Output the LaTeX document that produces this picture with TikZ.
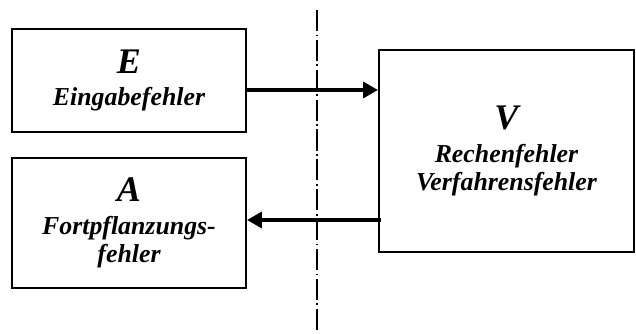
\documentclass[tikz,border=0pt]{standalone}
\usepackage{fontspec}
\setmainfont{Liberation Serif}
\usetikzlibrary{arrows.meta}
\newcommand{\gross}[1]{{\fontsize{20.5}{22}\selectfont #1}}
\begin{document}
\begin{tikzpicture}[scale=1]
\tikzset{kasten/.style={draw,line width=1.1pt,align=center,font=\bfseries\itshape\fontsize{14.7}{16}\selectfont,inner sep=0pt}}
\tikzset{pfeil/.style={line width=2.3pt,-{Triangle[length=8.5pt,width=9pt]}}}
\useasboundingbox (0,0) rectangle (12.72,6.66);
\node [kasten,minimum width=4.68cm,minimum height=2.06cm] (E) at (2.58,5.05) {\gross{E}\\[2pt] Eingabefehler};
\node [kasten,minimum width=4.68cm,minimum height=2.6cm] (A) at (2.58,2.2) {\gross{A}\\[3pt] Fortpflanzungs-\\ fehler};
\node [kasten,minimum width=5.1cm,minimum height=4.04cm] (V) at (10.13,3.64) {\gross{V}\\[3pt] Rechenfehler\\ Verfahrensfehler};
\coordinate (oben) at (6.34,6.46);
\coordinate (unten) at (6.34,0);
\draw[line width=1.1pt,dash pattern=on 12pt off 2pt on 1pt off 2pt] (oben) to (unten);
\draw[pfeil] ([yshift=-1.9mm]E.east) to ([yshift=-1.9mm]E.east -| V.west);
\draw[pfeil] ([xshift=0.6mm,yshift=0.6mm]A.east -| V.west) to ([yshift=0.6mm]A.east);
\end{tikzpicture}
\end{document}
